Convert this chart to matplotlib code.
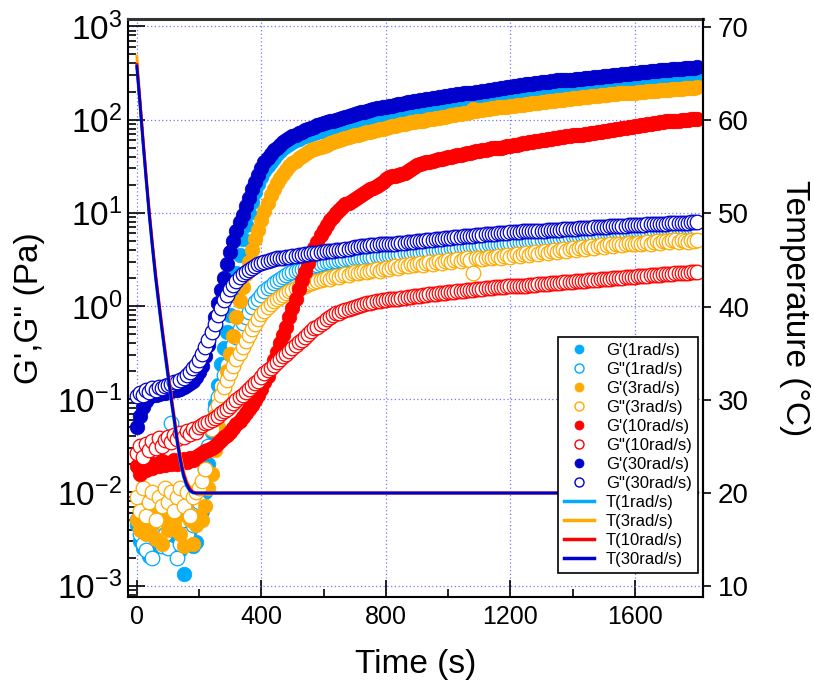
import numpy as np
import matplotlib
matplotlib.use('Agg')
import matplotlib.pyplot as plt
from matplotlib.lines import Line2D
from matplotlib.ticker import FixedLocator, FuncFormatter, NullFormatter

plt.rcParams['font.family'] = ['Liberation Sans', 'DejaVu Sans']
plt.rcParams['mathtext.fontset'] = 'custom'
plt.rcParams['mathtext.rm'] = 'Liberation Sans'
plt.rcParams['mathtext.it'] = 'Liberation Sans:italic'

# sampling time of the oscillation sweep (s), one point every 10 s
time_s = np.arange(0, 1801, 10)

# log10 of the moduli (Pa), one row = 100 s
gp1_log = [
    -2.35, -2.52, -2.60, -2.48, -2.68, -2.62, -2.45, -2.55, -2.40, -2.50,
    -2.45, -2.35, -2.55, -2.50, -2.62, -2.88, -2.45, -2.40, -2.58, -2.53,
    -2.30, -2.20, -2.00, -1.70, -1.35, -1.05, -0.85, -0.62, -0.45, -0.28,
    -0.10, 0.12, 0.35, 0.55, 0.72, 0.87, 1.00, 1.12, 1.22, 1.31,
    1.38, 1.45, 1.50, 1.55, 1.59, 1.63, 1.66, 1.69, 1.72, 1.74,
    1.76, 1.78, 1.79, 1.81, 1.82, 1.83, 1.85, 1.86, 1.87, 1.88,
    1.89, 1.90, 1.91, 1.92, 1.93, 1.94, 1.95, 1.96, 1.97, 1.98,
    1.99, 2.00, 2.01, 2.01, 2.02, 2.03, 2.04, 2.05, 2.05, 2.06,
    2.07, 2.08, 2.08, 2.09, 2.10, 2.10, 2.11, 2.12, 2.12, 2.13,
    2.13, 2.14, 2.14, 2.15, 2.15, 2.16, 2.16, 2.17, 2.17, 2.18,
    2.18, 2.19, 2.19, 2.20, 2.20, 2.21, 2.21, 2.22, 2.22, 2.23,
    2.23, 2.24, 2.24, 2.25, 2.25, 2.26, 2.26, 2.27, 2.27, 2.28,
    2.28, 2.29, 2.29, 2.30, 2.30, 2.31, 2.31, 2.31, 2.32, 2.32,
    2.33, 2.33, 2.33, 2.34, 2.34, 2.35, 2.35, 2.35, 2.36, 2.36,
    2.36, 2.37, 2.37, 2.37, 2.38, 2.38, 2.38, 2.39, 2.39, 2.39,
    2.40, 2.40, 2.40, 2.41, 2.41, 2.41, 2.42, 2.42, 2.42, 2.43,
    2.43, 2.43, 2.44, 2.44, 2.44, 2.45, 2.45, 2.45, 2.46, 2.46,
    2.46, 2.46, 2.47, 2.47, 2.47, 2.47, 2.48, 2.48, 2.48, 2.48,
    2.49,
]
gpp1_log = [
    -2.30, -2.45, -2.55, -2.62, -2.40, -2.70, -2.50, -2.35, -2.58, -2.45,
    -2.60, -1.25, -2.40, -2.70, -2.55, -2.30, -2.45, -2.25, -2.35, -2.20,
    -2.10, -1.95, -1.75, -1.50, -1.28, -1.10, -0.98, -0.86, -0.74, -0.63,
    -0.52, -0.42, -0.33, -0.25, -0.18, -0.12, -0.06, -0.01, 0.04, 0.08,
    0.12, 0.16, 0.19, 0.22, 0.25, 0.27, 0.29, 0.31, 0.33, 0.35,
    0.37, 0.38, 0.39, 0.40, 0.41, 0.42, 0.43, 0.43, 0.44, 0.45,
    0.46, 0.47, 0.47, 0.48, 0.48, 0.49, 0.49, 0.50, 0.50, 0.50,
    0.51, 0.51, 0.52, 0.52, 0.53, 0.53, 0.53, 0.54, 0.54, 0.54,
    0.55, 0.55, 0.55, 0.56, 0.56, 0.56, 0.57, 0.57, 0.57, 0.58,
    0.58, 0.58, 0.59, 0.59, 0.59, 0.60, 0.60, 0.60, 0.61, 0.61,
    0.61, 0.62, 0.62, 0.62, 0.63, 0.63, 0.63, 0.64, 0.64, 0.64,
    0.65, 0.65, 0.65, 0.66, 0.66, 0.66, 0.67, 0.67, 0.67, 0.68,
    0.68, 0.68, 0.69, 0.69, 0.69, 0.70, 0.70, 0.70, 0.71, 0.71,
    0.71, 0.72, 0.72, 0.72, 0.73, 0.73, 0.73, 0.74, 0.74, 0.74,
    0.75, 0.75, 0.75, 0.76, 0.76, 0.76, 0.76, 0.77, 0.77, 0.77,
    0.78, 0.78, 0.78, 0.78, 0.79, 0.79, 0.79, 0.79, 0.80, 0.80,
    0.80, 0.80, 0.81, 0.81, 0.81, 0.81, 0.81, 0.82, 0.82, 0.82,
    0.82, 0.82, 0.83, 0.83, 0.83, 0.83, 0.83, 0.84, 0.84, 0.84,
    0.84,
]
gp3_log = [
    -2.30, -2.40, -2.15, -2.45, -2.25, -2.35, -2.50, -2.20, -2.55, -2.30,
    -2.40, -2.10, -2.35, -2.25, -2.45, -2.58, -2.20, -2.30, -2.55, -2.35,
    -2.25, -2.30, -2.15, -1.95, -1.80, -1.55, -1.30, -1.10, -0.88, -0.70,
    -0.52, -0.32, -0.12, 0.05, 0.20, 0.34, 0.47, 0.60, 0.72, 0.82,
    0.92, 1.02, 1.11, 1.19, 1.26, 1.32, 1.37, 1.42, 1.46, 1.50,
    1.53, 1.56, 1.59, 1.61, 1.63, 1.65, 1.67, 1.68, 1.70, 1.71,
    1.72, 1.73, 1.75, 1.76, 1.77, 1.78, 1.79, 1.80, 1.81, 1.82,
    1.83, 1.84, 1.85, 1.86, 1.87, 1.87, 1.88, 1.89, 1.90, 1.90,
    1.91, 1.92, 1.93, 1.93, 1.94, 1.95, 1.95, 1.96, 1.97, 1.97,
    1.98, 1.99, 1.99, 2.00, 2.01, 2.01, 2.02, 2.02, 2.03, 2.03,
    2.04, 2.05, 2.05, 2.06, 2.06, 2.07, 2.07, 2.08, 2.11, 2.09,
    2.10, 2.10, 2.11, 2.11, 2.12, 2.12, 2.13, 2.13, 2.14, 2.14,
    2.15, 2.15, 2.16, 2.16, 2.16, 2.17, 2.17, 2.18, 2.18, 2.18,
    2.19, 2.19, 2.20, 2.20, 2.20, 2.21, 2.21, 2.21, 2.22, 2.22,
    2.23, 2.23, 2.23, 2.24, 2.24, 2.24, 2.25, 2.25, 2.25, 2.26,
    2.26, 2.26, 2.27, 2.27, 2.27, 2.28, 2.28, 2.28, 2.29, 2.29,
    2.29, 2.30, 2.30, 2.30, 2.31, 2.31, 2.31, 2.31, 2.32, 2.32,
    2.32, 2.32, 2.33, 2.33, 2.33, 2.33, 2.34, 2.34, 2.34, 2.34,
    2.35,
]
gpp3_log = [
    -2.05, -2.20, -1.95, -2.25, -2.10, -2.00, -2.30, -2.05, -2.15, -1.95,
    -2.10, -2.00, -2.20, -2.05, -1.95, -2.15, -2.00, -2.25, -2.05, -2.00,
    -1.95, -1.88, -1.75, -1.55, -1.32, -1.18, -1.06, -0.95, -0.87, -0.79,
    -0.72, -0.64, -0.57, -0.50, -0.44, -0.38, -0.31, -0.25, -0.19, -0.14,
    -0.09, -0.05, -0.01, 0.02, 0.05, 0.08, 0.10, 0.12, 0.14, 0.16,
    0.17, 0.19, 0.20, 0.21, 0.22, 0.24, 0.25, 0.26, 0.27, 0.28,
    0.29, 0.30, 0.29, 0.31, 0.32, 0.31, 0.33, 0.34, 0.33, 0.35,
    0.36, 0.35, 0.37, 0.38, 0.36, 0.38, 0.39, 0.40, 0.38, 0.40,
    0.41, 0.40, 0.42, 0.43, 0.41, 0.43, 0.44, 0.43, 0.45, 0.44,
    0.45, 0.46, 0.44, 0.46, 0.47, 0.45, 0.47, 0.48, 0.46, 0.48,
    0.49, 0.47, 0.49, 0.50, 0.48, 0.50, 0.51, 0.49, 0.35, 0.51,
    0.52, 0.50, 0.52, 0.53, 0.51, 0.53, 0.54, 0.52, 0.54, 0.55,
    0.53, 0.55, 0.56, 0.54, 0.56, 0.57, 0.55, 0.57, 0.58, 0.56,
    0.58, 0.59, 0.57, 0.59, 0.60, 0.58, 0.60, 0.61, 0.59, 0.61,
    0.62, 0.60, 0.62, 0.63, 0.61, 0.63, 0.64, 0.62, 0.64, 0.65,
    0.63, 0.65, 0.66, 0.64, 0.66, 0.67, 0.65, 0.67, 0.68, 0.66,
    0.67, 0.68, 0.66, 0.68, 0.69, 0.67, 0.69, 0.70, 0.68, 0.70,
    0.70, 0.69, 0.71, 0.71, 0.69, 0.71, 0.70, 0.69, 0.71, 0.70,
    0.71,
]
gp10_log = [
    -1.72, -1.80, -1.70, -1.76, -1.68, -1.74, -1.70, -1.72, -1.66, -1.71,
    -1.68, -1.70, -1.65, -1.69, -1.66, -1.64, -1.67, -1.63, -1.65, -1.62,
    -1.60, -1.58, -1.56, -1.54, -1.52, -1.50, -1.47, -1.44, -1.41, -1.38,
    -1.35, -1.31, -1.27, -1.23, -1.19, -1.15, -1.11, -1.06, -1.01, -0.95,
    -0.89, -0.82, -0.75, -0.67, -0.58, -0.49, -0.40, -0.31, -0.22, -0.12,
    -0.02, 0.08, 0.18, 0.28, 0.37, 0.46, 0.54, 0.62, 0.69, 0.76,
    0.82, 0.87, 0.92, 0.96, 1.00, 1.03, 1.06, 1.09, 1.11, 1.13,
    1.15, 1.17, 1.19, 1.21, 1.23, 1.25, 1.27, 1.29, 1.31, 1.33,
    1.36, 1.38, 1.39, 1.40, 1.41, 1.42, 1.43, 1.45, 1.47, 1.49,
    1.51, 1.52, 1.53, 1.54, 1.55, 1.56, 1.57, 1.58, 1.58, 1.59,
    1.60, 1.60, 1.61, 1.62, 1.62, 1.63, 1.64, 1.64, 1.65, 1.66,
    1.66, 1.67, 1.67, 1.68, 1.69, 1.69, 1.70, 1.70, 1.71, 1.72,
    1.72, 1.73, 1.73, 1.74, 1.75, 1.75, 1.76, 1.76, 1.77, 1.77,
    1.78, 1.78, 1.79, 1.79, 1.80, 1.80, 1.81, 1.81, 1.82, 1.82,
    1.83, 1.83, 1.84, 1.84, 1.85, 1.85, 1.86, 1.86, 1.87, 1.87,
    1.88, 1.88, 1.89, 1.89, 1.90, 1.90, 1.91, 1.91, 1.92, 1.92,
    1.93, 1.93, 1.94, 1.94, 1.95, 1.95, 1.96, 1.96, 1.97, 1.97,
    1.98, 1.98, 1.98, 1.99, 1.99, 2.00, 2.00, 2.00, 2.01, 2.01,
    2.01,
]
gpp10_log = [
    -1.58, -1.50, -1.62, -1.48, -1.55, -1.45, -1.52, -1.42, -1.50, -1.44,
    -1.40, -1.46, -1.38, -1.43, -1.36, -1.40, -1.34, -1.37, -1.32, -1.35,
    -1.30, -1.28, -1.26, -1.24, -1.22, -1.20, -1.18, -1.15, -1.13, -1.10,
    -1.07, -1.04, -1.01, -0.98, -0.95, -0.92, -0.89, -0.86, -0.83, -0.80,
    -0.76, -0.72, -0.69, -0.66, -0.63, -0.60, -0.57, -0.54, -0.51, -0.48,
    -0.45, -0.42, -0.39, -0.36, -0.33, -0.30, -0.27, -0.24, -0.22, -0.19,
    -0.17, -0.14, -0.12, -0.10, -0.08, -0.07, -0.05, -0.04, -0.03, -0.02,
    -0.01, 0.00, 0.01, 0.02, 0.03, 0.03, 0.04, 0.05, 0.05, 0.06,
    0.06, 0.07, 0.07, 0.08, 0.08, 0.09, 0.09, 0.10, 0.10, 0.11,
    0.11, 0.11, 0.12, 0.12, 0.13, 0.13, 0.13, 0.14, 0.14, 0.14,
    0.15, 0.15, 0.15, 0.16, 0.16, 0.16, 0.17, 0.17, 0.17, 0.18,
    0.18, 0.18, 0.19, 0.19, 0.19, 0.20, 0.20, 0.20, 0.20, 0.21,
    0.21, 0.21, 0.22, 0.22, 0.22, 0.22, 0.23, 0.23, 0.23, 0.24,
    0.24, 0.24, 0.24, 0.25, 0.25, 0.25, 0.25, 0.26, 0.26, 0.26,
    0.26, 0.27, 0.27, 0.27, 0.27, 0.28, 0.28, 0.28, 0.28, 0.29,
    0.29, 0.29, 0.29, 0.30, 0.30, 0.30, 0.30, 0.31, 0.31, 0.31,
    0.31, 0.32, 0.32, 0.32, 0.32, 0.33, 0.33, 0.33, 0.33, 0.34,
    0.34, 0.34, 0.34, 0.35, 0.35, 0.35, 0.35, 0.35, 0.36, 0.36,
    0.36,
]
gp30_log = [
    -1.30, -1.18, -1.08, -1.02, -0.98, -0.96, -0.95, -0.94, -0.93, -0.93,
    -0.92, -0.91, -0.90, -0.90, -0.89, -0.87, -0.85, -0.83, -0.80, -0.76,
    -0.71, -0.64, -0.54, -0.42, -0.28, -0.12, 0.03, 0.17, 0.30, 0.45,
    0.58, 0.70, 0.81, 0.90, 0.98, 1.07, 1.16, 1.25, 1.33, 1.41,
    1.48, 1.54, 1.59, 1.63, 1.67, 1.70, 1.73, 1.76, 1.78, 1.80,
    1.82, 1.84, 1.86, 1.87, 1.89, 1.90, 1.91, 1.92, 1.94, 1.95,
    1.96, 1.97, 1.98, 1.99, 2.00, 2.01, 2.02, 2.03, 2.04, 2.05,
    2.06, 2.07, 2.08, 2.08, 2.09, 2.10, 2.11, 2.12, 2.12, 2.13,
    2.14, 2.15, 2.15, 2.16, 2.17, 2.17, 2.18, 2.19, 2.19, 2.20,
    2.20, 2.21, 2.21, 2.22, 2.22, 2.23, 2.23, 2.24, 2.24, 2.25,
    2.25, 2.26, 2.26, 2.27, 2.27, 2.28, 2.28, 2.29, 2.29, 2.30,
    2.30, 2.31, 2.31, 2.32, 2.32, 2.33, 2.33, 2.34, 2.34, 2.35,
    2.35, 2.36, 2.36, 2.37, 2.37, 2.38, 2.38, 2.38, 2.39, 2.39,
    2.40, 2.40, 2.40, 2.41, 2.41, 2.42, 2.42, 2.42, 2.43, 2.43,
    2.43, 2.44, 2.44, 2.44, 2.45, 2.45, 2.45, 2.46, 2.46, 2.46,
    2.47, 2.47, 2.47, 2.48, 2.48, 2.48, 2.49, 2.49, 2.49, 2.50,
    2.50, 2.50, 2.51, 2.51, 2.51, 2.52, 2.52, 2.52, 2.53, 2.53,
    2.53, 2.53, 2.54, 2.54, 2.54, 2.54, 2.55, 2.55, 2.55, 2.55,
    2.56,
]
gpp30_log = [
    -0.97, -0.93, -0.95, -0.90, -0.92, -0.88, -0.90, -0.87, -0.88, -0.86,
    -0.85, -0.84, -0.82, -0.81, -0.79, -0.77, -0.74, -0.71, -0.67, -0.63,
    -0.58, -0.51, -0.44, -0.36, -0.28, -0.19, -0.10, -0.02, 0.06, 0.12,
    0.18, 0.23, 0.27, 0.31, 0.34, 0.37, 0.39, 0.41, 0.43, 0.45,
    0.46, 0.47, 0.48, 0.49, 0.50, 0.51, 0.51, 0.52, 0.53, 0.53,
    0.54, 0.54, 0.55, 0.55, 0.56, 0.56, 0.57, 0.57, 0.57, 0.58,
    0.58, 0.59, 0.59, 0.59, 0.60, 0.60, 0.60, 0.61, 0.61, 0.62,
    0.63, 0.63, 0.64, 0.64, 0.64, 0.65, 0.65, 0.65, 0.66, 0.66,
    0.66, 0.67, 0.67, 0.67, 0.68, 0.68, 0.68, 0.69, 0.69, 0.69,
    0.70, 0.70, 0.70, 0.71, 0.71, 0.71, 0.72, 0.72, 0.72, 0.73,
    0.73, 0.73, 0.74, 0.74, 0.74, 0.75, 0.75, 0.75, 0.75, 0.76,
    0.76, 0.76, 0.77, 0.77, 0.77, 0.77, 0.78, 0.78, 0.78, 0.78,
    0.79, 0.79, 0.79, 0.79, 0.80, 0.80, 0.80, 0.80, 0.81, 0.81,
    0.81, 0.81, 0.82, 0.82, 0.82, 0.82, 0.82, 0.83, 0.83, 0.83,
    0.83, 0.83, 0.84, 0.84, 0.84, 0.84, 0.84, 0.85, 0.85, 0.85,
    0.85, 0.85, 0.86, 0.86, 0.86, 0.86, 0.86, 0.86, 0.87, 0.87,
    0.87, 0.87, 0.87, 0.87, 0.88, 0.88, 0.88, 0.88, 0.88, 0.88,
    0.88, 0.89, 0.89, 0.89, 0.89, 0.89, 0.89, 0.89, 0.90, 0.90,
    0.90,
]

# temperature ramp (degC): cooling to 20 degC, then held to the end
temp_time = [0, 10, 20, 30, 40, 50, 60, 70, 80, 90, 100, 110, 120, 130,
             140, 150, 160, 170, 180, 190, 200, 1800]
temp1 = [65.6, 61.6, 57.4, 53.4, 49.6, 46.2, 43.0, 40.2, 37.5, 34.9, 32.4,
         29.9, 27.6, 25.2, 23.2, 21.7, 20.7, 20.2, 20.0, 20.0, 20.0, 20.0]
temp3 = [66.9, 62.4, 58.2, 54.2, 50.4, 47.0, 43.8, 41.0, 38.3, 35.7, 33.2,
         30.7, 28.4, 26.0, 24.0, 22.4, 21.3, 20.6, 20.2, 20.0, 20.0, 20.0]
temp10 = [66.0, 62.1, 57.9, 53.9, 50.1, 46.7, 43.5, 40.7, 38.0, 35.4, 32.9,
          30.4, 28.1, 25.7, 23.7, 22.1, 21.1, 20.5, 20.1, 20.0, 20.0, 20.0]
temp30 = [65.8, 61.9, 57.7, 53.7, 49.9, 46.5, 43.3, 40.5, 37.8, 35.2, 32.7,
          30.2, 27.9, 25.5, 23.5, 21.9, 20.9, 20.3, 20.05, 20.0, 20.0, 20.0]

freqs = ['1rad/s', '3rad/s', '10rad/s', '30rad/s']
colors = ['#00aaff', '#ffaa00', '#ff0000', '#0000cc']

fig = plt.figure(figsize=(8.14, 6.89), dpi=100)
ax = fig.add_axes([0.157, 0.1335, 0.7064, 0.8389])

handles = []
moduli = [(gp1_log, gpp1_log), (gp3_log, gpp3_log),
          (gp10_log, gpp10_log), (gp30_log, gpp30_log)]
for (gp, gpp), freq, col in zip(moduli, freqs, colors):
    ax.plot(time_s, 10 ** np.array(gp), 'o', ms=10.5, mfc=col, mec=col,
            mew=0.5, ls='none', zorder=3)
    ax.plot(time_s, 10 ** np.array(gpp), 'o', ms=10.5, mfc='white', mec=col,
            mew=0.9, ls='none', zorder=3)
    handles.append(Line2D([], [], marker='o', ls='none', ms=6.5, mfc=col,
                          mec=col, mew=0.5, label="G'(%s)" % freq))
    handles.append(Line2D([], [], marker='o', ls='none', ms=6.5, mfc='white',
                          mec=col, mew=1.0, label='G"(%s)' % freq))

ax.set_yscale('log')
ax.set_ylim(10 ** -3.122, 10 ** 3.079)
ax.set_xlim(-29, 1818)

decades = [10.0 ** k for k in range(-3, 4)]
ax.yaxis.set_major_locator(FixedLocator(decades))
ax.yaxis.set_major_formatter(FuncFormatter(
    lambda v, p: r'$\mathregular{10^{%d}}$' % round(np.log10(v))))
minors = [m * 10.0 ** k for k in range(-4, 4) for m in range(2, 10)]
ax.yaxis.set_minor_locator(FixedLocator(minors))
ax.yaxis.set_minor_formatter(NullFormatter())
ax.xaxis.set_major_locator(FixedLocator([0, 400, 800, 1200, 1600]))
ax.xaxis.set_minor_locator(FixedLocator([200, 600, 1000, 1400]))

ax.tick_params(which='both', direction='in', top=False, right=False,
               width=1.2, colors='black')
ax.tick_params(which='major', length=12)
ax.tick_params(which='minor', length=6)
ax.tick_params(axis='x', labelsize=18, pad=6)
ax.tick_params(axis='y', labelsize=24, pad=4)

ax.grid(True, which='major', color='#7777ff', linestyle=(0, (1, 2)),
        linewidth=0.9)
ax.set_axisbelow(True)
for sp in ax.spines.values():
    sp.set_linewidth(1.5)
ax.spines['top'].set_color('#333333')
ax.spines['top'].set_linewidth(2.2)

ax.set_xlabel('Time (s)', fontsize=24, labelpad=14)
ax.set_ylabel('G\',G" (Pa)', fontsize=24, labelpad=9)

# temperature on the right axis
ax2 = ax.twinx()
for temp, freq, col in zip([temp1, temp3, temp10, temp30], freqs, colors):
    ax2.plot(temp_time, temp, color=col, lw=2.0, zorder=2)
    handles.append(Line2D([], [], color=col, lw=2.5, label='T(%s)' % freq))

ax2.set_ylim(8.84, 70.86)
ax2.yaxis.set_major_locator(FixedLocator([10, 20, 30, 40, 50, 60, 70]))
ax2.tick_params(axis='y', direction='out', length=6, width=1.2,
                labelsize=20, pad=5)
ax2.set_ylabel('Temperature (\u00b0C)', fontsize=24, rotation=270,
               labelpad=44)
for sp in ax2.spines.values():
    sp.set_visible(False)
ax2.spines['right'].set_visible(True)
ax2.spines['right'].set_linewidth(1.5)

leg = ax2.legend(handles=handles, loc='lower right',
                 bbox_to_anchor=(0.991, 0.0415), fontsize=12,
                 labelspacing=0.24, handlelength=1.8, handletextpad=0.7,
                 borderpad=0.35, borderaxespad=0, fancybox=False,
                 framealpha=1, edgecolor='black')
leg.get_frame().set_linewidth(1.2)

fig.savefig('out.png', dpi=100)
